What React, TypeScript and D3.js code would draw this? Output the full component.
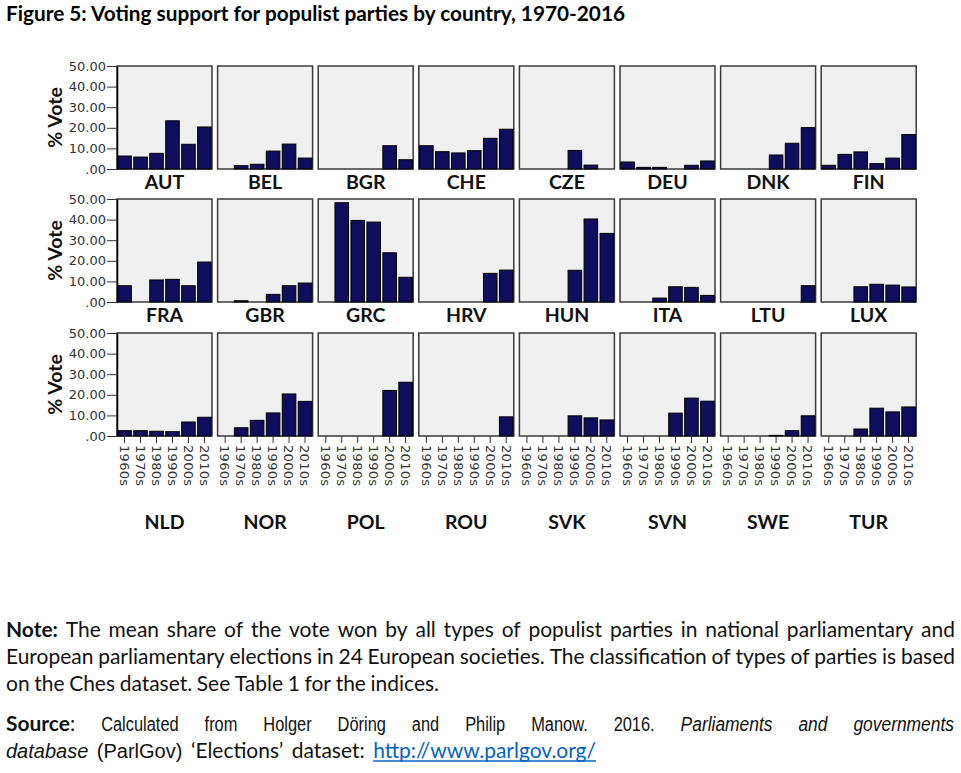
import React, { useEffect, useRef } from 'react'
import * as d3 from 'd3'

// decades on the x axis of every panel
const decades = ['1960s', '1970s', '1980s', '1990s', '2000s', '2010s']
const yTicks = [0, 10, 20, 30, 40, 50]

// countries, one row of panels each
const row1 = ['AUT', 'BEL', 'BGR', 'CHE', 'CZE', 'DEU', 'DNK', 'FIN']
const row2 = ['FRA', 'GBR', 'GRC', 'HRV', 'HUN', 'ITA', 'LTU', 'LUX']
const row3 = ['NLD', 'NOR', 'POL', 'ROU', 'SVK', 'SVN', 'SWE', 'TUR']

// mean % vote per decade (null = no bar)
const AUT = [6.3, 5.8, 7.6, 23.4, 12.0, 20.4]
const BEL = [null, 1.6, 2.3, 8.7, 12.1, 5.3]
const BGR = [null, null, null, null, 11.3, 4.5]
const CHE = [11.3, 8.4, 7.8, 8.9, 14.9, 19.3]
const CZE = [null, null, null, 9.0, 1.9, null]
const DEU = [3.4, 0.8, 0.8, null, 1.8, 3.9]
const DNK = [null, null, null, 6.8, 12.5, 20.1]
const FIN = [1.8, 7.1, 8.3, 2.6, 5.3, 16.7]
const FRA = [7.9, null, 10.7, 11.0, 7.9, 19.4]
const GBR = [null, 0.6, null, 3.7, 7.9, 9.2]
const GRC = [null, 48.2, 39.6, 38.8, 23.9, 12.0]
const HRV = [null, null, null, null, 13.9, 15.5]
const HUN = [null, null, null, 15.4, 40.3, 33.3]
const ITA = [null, null, 1.9, 7.4, 7.1, 3.2]
const LTU = [null, null, null, null, null, 7.9]
const LUX = [null, null, 7.4, 8.6, 8.2, 7.3]
const NLD = [2.6, 2.6, 2.3, 2.1, 6.8, 9.1]
const NOR = [null, 4.0, 7.6, 11.2, 20.4, 16.8]
const POL = [null, null, null, null, 22.1, 26.1]
const ROU = [null, null, null, null, null, 9.3]
const SVK = [null, null, null, 9.8, 8.8, 7.8]
const SVN = [null, null, null, 11.1, 18.4, 16.9]
const SWE = [null, null, null, 0.3, 2.6, 9.8]
const TUR = [null, null, 3.4, 13.5, 11.7, 14.1]

const voteShare: Record<string, (number | null)[]> = {
  AUT, BEL, BGR, CHE, CZE, DEU, DNK, FIN,
  FRA, GBR, GRC, HRV, HUN, ITA, LTU, LUX,
  NLD, NOR, POL, ROU, SVK, SVN, SWE, TUR,
}

const titleText = 'Figure 5: Voting support for populist parties by country, 1970-2016'

const CAL = 'Lato, "Open Sans", sans-serif'
const ARIAL = '"Liberation Sans", Arial, sans-serif'

interface Seg {
  text: string
  family: string
  weight?: string
  style?: string
  fill?: string
  underline?: boolean
  squeeze?: number // horizontal glyph squeeze; calibri-like text gets the measured factor
}
interface TextLine {
  segs: Seg[]
  baseline: number
  right: number
}

const footLines: TextLine[] = [
  {
    baseline: 637, right: 955,
    segs: [
      { text: 'Note:', family: CAL, weight: 'bold' },
      { text: ' The mean share of the vote won by all types of populist parties in national parliamentary and', family: CAL },
    ],
  },
  {
    baseline: 664, right: 955,
    segs: [{ text: 'European parliamentary elections in 24 European societies. The classification of types of parties is based', family: CAL }],
  },
  {
    baseline: 691, right: 439,
    segs: [{ text: 'on the Ches dataset. See Table 1 for the indices.', family: CAL }],
  },
  {
    baseline: 731, right: 954,
    segs: [
      { text: 'Source', family: CAL, weight: 'bold' },
      { text: ':', family: CAL },
      { text: ' Calculated from Holger Döring and Philip Manow. 2016.', family: ARIAL, squeeze: 0.82 },
      { text: ' Parliaments and governments', family: ARIAL, style: 'italic', squeeze: 0.87 },
    ],
  },
  {
    baseline: 758, right: 596,
    segs: [
      { text: 'database', family: ARIAL, style: 'italic' },
      { text: ' (ParlGov)', family: ARIAL },
      { text: ' \u2018Elections\u2019 dataset:', family: CAL },
      { text: ' http://www.parlgov.org/', family: CAL, fill: '#0563c1', underline: true },
    ],
  },
]

export default function App() {
  const svgRef = useRef<SVGSVGElement>(null)

  useEffect(() => {
    if (!svgRef.current) return
    document.body.style.margin = '0'
    const svg = d3.select(svgRef.current)
    svg.selectAll('*').remove()

    // layout
    const panelX0 = 117
    const panelStep = 100.6
    const panelW = 95
    const panelH = 103
    const rowTops = [66, 199, 333]
    const rows = [row1, row2, row3]

    const x = d3.scaleBand<string>().domain(decades).range([0, panelW]).paddingInner(0.15).paddingOuter(0.05)
    const y = d3.scaleLinear().domain([0, 50]).range([panelH, 0])

    // title
    svg.append('text')
      .attr('x', 6)
      .attr('y', 21)
      .attr('font-family', CAL)
      .attr('font-weight', 'bold')
      .attr('font-size', 21)
      .attr('fill', '#000')
      .attr('textLength', 619)
      .attr('lengthAdjust', 'spacingAndGlyphs')
      .text(titleText)

    rows.forEach((row, r) => {
      const top = rowTops[r]

      // y axis title
      svg.append('text')
        .attr('transform', `translate(62,${top + panelH / 2}) rotate(-90)`)
        .attr('text-anchor', 'middle')
        .attr('font-family', CAL)
        .attr('font-weight', 'bold')
        .attr('font-size', 19.5)
        .attr('fill', '#111')
        .text('% Vote')

      row.forEach((country, i) => {
        const g = svg.append('g').attr('transform', `translate(${panelX0 + i * panelStep},${top})`)

        g.append('rect')
          .attr('width', panelW)
          .attr('height', panelH)
          .attr('fill', '#f0f0f0')
          .attr('stroke', '#3a3a3a')
          .attr('stroke-width', 1.5)

        const bars = decades
          .map((d, k) => ({ d, v: voteShare[country][k] }))
          .filter(b => b.v !== null) as { d: string; v: number }[]

        g.selectAll('.bar')
          .data(bars)
          .enter()
          .append('rect')
          .attr('class', 'bar')
          .attr('x', b => x(b.d)!)
          .attr('y', b => y(b.v))
          .attr('width', x.bandwidth())
          .attr('height', b => panelH - y(b.v))
          .attr('fill', '#0e0e5c')
          .attr('stroke', '#000')
          .attr('stroke-width', 1)

        // y axis on first column
        if (i === 0) {
          const ax = g.append('g')
            .call(
              d3.axisLeft(y)
                .tickValues(yTicks)
                .tickSize(10)
                .tickSizeOuter(0)
                .tickPadding(1)
                .tickFormat(v => (+v === 0 ? '.00' : (+v).toFixed(2)))
            )
          ax.select('.domain').attr('stroke', '#000').attr('stroke-width', 1.5)
          ax.selectAll('.tick line').attr('stroke', '#333')
          ax.selectAll('.tick text')
            .attr('font-family', '"DejaVu Sans", sans-serif')
            .attr('font-size', 13)
            .attr('fill', '#333')
        }

        // x axis only on the bottom row
        if (r === 2) {
          const ax = g.append('g')
            .attr('transform', `translate(0,${panelH})`)
            .call(d3.axisBottom(x).tickSize(7).tickSizeOuter(0))
          ax.select('.domain').remove()
          ax.selectAll('.tick line').attr('stroke', '#333')
          ax.selectAll('.tick text')
            .attr('x', 0)
            .attr('y', 0)
            .attr('dy', '0.36em')
            .attr('transform', 'translate(0,9) rotate(90)')
            .attr('text-anchor', 'start')
            .attr('font-family', '"DejaVu Sans", sans-serif')
            .attr('font-size', 13)
            .attr('letter-spacing', 0.3)
            .attr('fill', '#333')
        }

        // country label
        g.append('text')
          .attr('x', panelW / 2)
          .attr('y', r === 2 ? 196 : panelH + 20)
          .attr('text-anchor', 'middle')
          .attr('font-family', CAL)
          .attr('font-weight', 'bold')
          .attr('font-size', 19.5)
          .attr('fill', '#111')
          .text(country)
      })
    })

    // note and source
    const left = 6
    const calSize = 20.5
    const arialSize = 20

    const measure = (s: Seg, text: string, size: number) => {
      const t = svg.append('text')
        .attr('font-family', s.family)
        .attr('font-weight', s.weight || 'normal')
        .attr('font-style', s.style || 'normal')
        .attr('font-size', size)
        .text(text)
      const w = (t.node() as SVGTextElement).getComputedTextLength()
      t.remove()
      return w
    }

    // squeeze for the calibri-like face, from the unjustified third note line (ends at x=439)
    const ref = footLines[2]
    const refWords = ref.segs[0].text.split(' ')
    const refSum = d3.sum(refWords, w => measure(ref.segs[0], w, calSize))
    const calSqueeze = (ref.right - left - (refWords.length - 1) * 0.226 * calSize) / refSum

    footLines.forEach(line => {
      const words: Seg[][] = []
      line.segs.forEach(seg => {
        seg.text.split(' ').forEach((p, idx) => {
          if (p === '') return
          const piece = { ...seg, text: p }
          if (idx === 0 && words.length) words[words.length - 1].push(piece)
          else words.push([piece])
        })
      })
      const nodes = words.map(w =>
        w.map(piece => {
          const isCal = piece.family === CAL
          const size = isCal ? calSize : arialSize
          const k = piece.squeeze ?? (isCal ? calSqueeze : 1)
          const t = svg.append('text')
            .attr('y', line.baseline)
            .attr('font-family', piece.family)
            .attr('font-weight', piece.weight || 'normal')
            .attr('font-style', piece.style || 'normal')
            .attr('font-size', size)
            .attr('fill', piece.fill || '#111')
            .text(piece.text)
          const w = (t.node() as SVGTextElement).getComputedTextLength() * k
          t.attr('textLength', w).attr('lengthAdjust', 'spacingAndGlyphs')
          return { t, piece, w }
        })
      )
      const widths = nodes.map(w => d3.sum(w, p => p.w))
      const gap = (line.right - left - d3.sum(widths)) / Math.max(1, words.length - 1)
      let cx = left
      nodes.forEach(w => {
        w.forEach(p => {
          p.t.attr('x', cx)
          if (p.piece.underline) {
            svg.append('line')
              .attr('x1', cx)
              .attr('x2', cx + p.w)
              .attr('y1', line.baseline + 3)
              .attr('y2', line.baseline + 3)
              .attr('stroke', p.piece.fill || '#111')
              .attr('stroke-width', 1.3)
          }
          cx += p.w
        })
        cx += gap
      })
    })
  }, [])

  return <svg ref={svgRef} width={961} height={773} style={{ display: 'block', background: '#fff' }} />
}
